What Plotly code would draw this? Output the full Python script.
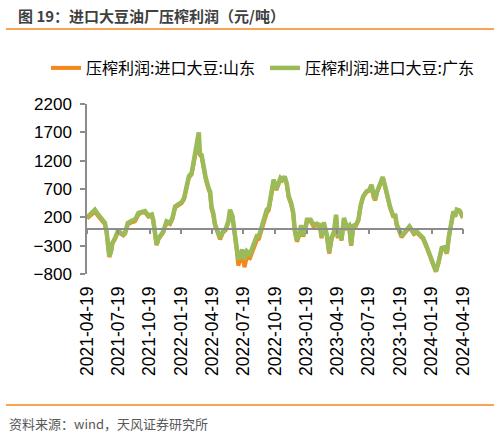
import plotly.graph_objects as go

# ------------------------------------------------------------
# Data: crushing margin of imported soybeans (yuan/ton)
# ------------------------------------------------------------
dates = [
    "2021-04-19", "2021-05-03", "2021-05-12", "2021-05-22", "2021-06-01", "2021-06-10",
    "2021-06-15", "2021-06-20", "2021-06-23", "2021-06-28", "2021-07-02", "2021-07-10",
    "2021-07-19", "2021-07-24", "2021-08-03", "2021-08-08", "2021-08-16", "2021-08-27",
    "2021-09-06", "2021-09-16", "2021-09-25", "2021-10-05", "2021-10-15", "2021-10-25",
    "2021-10-29", "2021-11-03", "2021-11-08", "2021-11-13", "2021-11-21", "2021-11-27",
    "2021-12-02", "2021-12-07", "2021-12-17", "2021-12-24", "2022-01-01", "2022-01-10",
    "2022-01-20", "2022-01-27", "2022-02-04", "2022-02-10", "2022-02-18", "2022-02-25",
    "2022-03-03", "2022-03-08", "2022-03-11", "2022-03-14", "2022-03-19", "2022-03-24",
    "2022-03-31", "2022-04-08", "2022-04-13", "2022-04-17", "2022-04-22", "2022-04-27",
    "2022-05-05", "2022-05-12", "2022-05-20", "2022-05-28", "2022-06-05", "2022-06-10",
    "2022-06-17", "2022-06-24", "2022-06-29", "2022-07-04", "2022-07-09", "2022-07-16",
    "2022-07-22", "2022-07-29", "2022-08-07", "2022-08-17", "2022-08-27", "2022-09-02",
    "2022-09-10", "2022-09-18", "2022-09-25", "2022-10-01", "2022-10-09", "2022-10-15",
    "2022-10-23", "2022-10-29", "2022-11-04", "2022-11-09", "2022-11-16", "2022-11-22",
    "2022-11-28", "2022-12-05", "2022-12-11", "2022-12-16", "2022-12-22", "2022-12-28",
    "2023-01-03", "2023-01-09", "2023-01-15", "2023-01-20", "2023-01-31", "2023-02-08",
    "2023-02-18", "2023-02-27", "2023-03-04", "2023-03-10", "2023-03-19", "2023-03-26",
    "2023-04-02", "2023-04-09", "2023-04-15", "2023-04-20", "2023-04-24", "2023-05-01",
    "2023-05-08", "2023-05-16", "2023-05-23", "2023-05-29", "2023-06-04", "2023-06-12",
    "2023-06-19", "2023-06-26", "2023-07-03", "2023-07-13", "2023-07-21", "2023-07-27",
    "2023-08-02", "2023-08-07", "2023-08-13", "2023-08-21", "2023-08-29", "2023-09-05",
    "2023-09-11", "2023-09-19", "2023-09-24", "2023-09-29", "2023-10-04", "2023-10-09",
    "2023-10-16", "2023-10-23", "2023-10-30", "2023-11-07", "2023-11-15", "2023-11-22",
    "2023-11-28", "2023-12-06", "2023-12-16", "2023-12-25", "2024-01-04", "2024-01-14",
    "2024-01-22", "2024-01-26", "2024-01-31", "2024-02-07", "2024-02-17", "2024-02-24",
    "2024-03-03", "2024-03-09", "2024-03-15", "2024-03-22", "2024-03-27", "2024-04-01",
    "2024-04-09", "2024-04-16", "2024-04-19",
]

# Guangdong (green)
guangdong = [
    200, 277, 335, 247, 176, 106,
    -47, -400, -488, -400, -253, -165,
    -18, -60, -106, -70, 100, 140,
    160, 277, 300, 310, 230, 250,
    160, -70, -282, -180, -106, -50,
    41, 130, 100, 190, 394, 420,
    470, 541, 747, 923, 982, 1276,
    1424, 1600, 1700, 1335, 1300, 1100,
    900, 720, 650, 380, 277, 80,
    -47, -165, -50, -10, 130, 335,
    217, -47, -312, -547, -470, -370,
    -547, -400, -450, -312, -130, -130,
    41, 159, 335, 370, 660, 865,
    700, 800, 894, 865, 920, 806,
    570, 453, 290, -40, -210, -106,
    60, -120, -18, 159, 159, 70,
    90, 60, -150, 110, -100, -420,
    -160, -50, 247, -150, 0, -194,
    188, 30, 60, -282, 50, 70,
    159, 424, 570, 659, 680, 776,
    570, 512, 659, 776, 912, 747,
    570, 394, 306, 217, 260, 70,
    -18, -135, -76, -18, 41, -18,
    -76, -50, -106, -165, -312, -488,
    -582, -694, -753, -606, -341, -330,
    -430, -135, 100, 306, 217, 335,
    320, 247, 200,
]

# Shandong (orange)
shandong = [
    180, 250, 300, 220, 150, 80,
    -60, -410, -500, -410, -260, -180,
    -40, -80, -120, -90, 80, 110,
    130, 250, 280, 290, 210, 230,
    140, -80, -290, -190, -120, -70,
    20, 110, 80, 170, 370, 400,
    450, 520, 720, 900, 960, 1250,
    1380, 1450, 1400, 1300, 1270, 1080,
    880, 700, 620, 350, 250, 60,
    -70, -190, -70, -30, 110, 310,
    200, -70, -350, -650, -560, -450,
    -680, -500, -520, -380, -200, -180,
    -20, 100, 280, 330, 620, 830,
    680, 780, 880, 850, 900, 790,
    550, 430, 270, -60, -230, -130,
    40, -140, -40, 130, 130, 40,
    60, 30, -170, 80, -130, -440,
    -180, -70, 220, -170, -20, -210,
    160, 10, 40, -300, 30, 50,
    140, 410, 560, 650, 670, 770,
    560, 500, 650, 770, 905, 740,
    560, 380, 290, 200, 245, 50,
    -40, -150, -95, -40, 20, -40,
    -95, -70, -130, -185, -330, -505,
    -600, -710, -760, -620, -350, -340,
    -440, -145, 90, 295, 210, 325,
    310, 240, 190,
]

tick_dates = [
    "2021-04-19", "2021-07-19", "2021-10-19", "2022-01-19", "2022-04-19",
    "2022-07-19", "2022-10-19", "2023-01-19", "2023-04-19", "2023-07-19",
    "2023-10-19", "2024-01-19", "2024-04-19",
]

y_min, y_max = -800, 2200

# ------------------------------------------------------------
# Layout geometry (pixels) and helpers to convert to paper units
# ------------------------------------------------------------
W, H = 499, 434
M_L, M_R, M_T, M_B = 87, 36, 104, 160
PLOT_W = W - M_L - M_R
PLOT_H = H - M_T - M_B


def px_x(x):
    return (x - M_L) / PLOT_W


def px_y(y):
    return (H - M_B - y) / PLOT_H


ORANGE = "#F7861C"
GREEN = "#9BBB59"
AXIS_GREY = "#8C8C8C"
FONT = "Noto Sans CJK SC"
NUM_FONT = "Liberation Sans"

fig = go.Figure()

fig.add_trace(go.Scatter(
    x=dates, y=shandong, name="压榨利润:进口大豆:山东",
    mode="lines", line=dict(color=ORANGE, width=4),
    legend="legend", showlegend=True,
))
fig.add_trace(go.Scatter(
    x=dates, y=guangdong, name="压榨利润:进口大豆:广东",
    mode="lines", line=dict(color=GREEN, width=4.5),
    xaxis="x2", legend="legend2", showlegend=True,
))

legend_style = dict(
    orientation="h",
    xanchor="left",
    yanchor="middle",
    y=px_y(68),
    font=dict(family=FONT, size=16, color="#000000"),
    itemwidth=30,
    bgcolor="rgba(0,0,0,0)",
)

fig.update_layout(
    # bottom axis: only the rotated date labels
    xaxis=dict(
        type="date",
        range=[tick_dates[0], tick_dates[-1]],
        tickvals=tick_dates,
        ticktext=tick_dates,
        tickangle=-90,
        showline=False,
        showgrid=False,
        zeroline=False,
        ticks="",
        ticklabelstandoff=8,
        tickfont=dict(family=NUM_FONT, size=17.5, color="#000000"),
    ),
    # axis line + ticks across the zero line
    xaxis2=dict(
        type="date",
        overlaying="x",
        matches="x",
        anchor="free",
        position=(0 - y_min) / (y_max - y_min),
        tickvals=tick_dates,
        showticklabels=False,
        showline=True,
        linecolor=AXIS_GREY,
        linewidth=1.5,
        ticks="outside",
        ticklen=5,
        tickwidth=1.5,
        tickcolor=AXIS_GREY,
        showgrid=False,
        zeroline=False,
    ),
    yaxis=dict(
        range=[y_min, y_max],
        dtick=500,
        tick0=200,
        showgrid=False,
        zeroline=False,
        showline=True,
        linecolor=AXIS_GREY,
        linewidth=1.5,
        ticks="outside",
        ticklen=5,
        tickwidth=1.5,
        tickcolor=AXIS_GREY,
        ticklabelstandoff=5,
        tickfont=dict(family=NUM_FONT, size=17, color="#000000"),
    ),
    showlegend=True,
    legend=dict(legend_style, x=px_x(46), visible=True),
    legend2=dict(legend_style, x=px_x(265), visible=True),
)

fig.update_layout(
    width=W,
    height=H,
    margin=dict(l=M_L, r=M_R, t=M_T, b=M_B),
    paper_bgcolor="white",
    plot_bgcolor="white",
    font=dict(family=FONT),
    annotations=[
        dict(
            text="<b>图 19：进口大豆油厂压榨利润（元/吨）</b>",
            xref="paper", yref="paper", x=px_x(16), y=px_y(15),
            xanchor="left", yanchor="middle", showarrow=False,
            font=dict(family=FONT, size=15, color="#404040"),
        ),
        dict(
            text="资料来源：wind，天风证券研究所",
            xref="paper", yref="paper", x=px_x(7), y=px_y(423),
            xanchor="left", yanchor="middle", showarrow=False,
            font=dict(family=FONT, size=13, color="#595959"),
        ),
    ],
    shapes=[
        dict(type="line", xref="paper", yref="paper",
             x0=px_x(6), x1=px_x(494), y0=px_y(29), y1=px_y(29),
             line=dict(color=ORANGE, width=1.5)),
        dict(type="line", xref="paper", yref="paper",
             x0=px_x(6), x1=px_x(494), y0=px_y(405), y1=px_y(405),
             line=dict(color=ORANGE, width=1.5)),
    ],
)

# drop the default 8px page margin so the figure sits at the window origin
fig.write_html(
    "out.html",
    config={"displayModeBar": False},
    post_script="document.body.style.margin = '0px';",
)
